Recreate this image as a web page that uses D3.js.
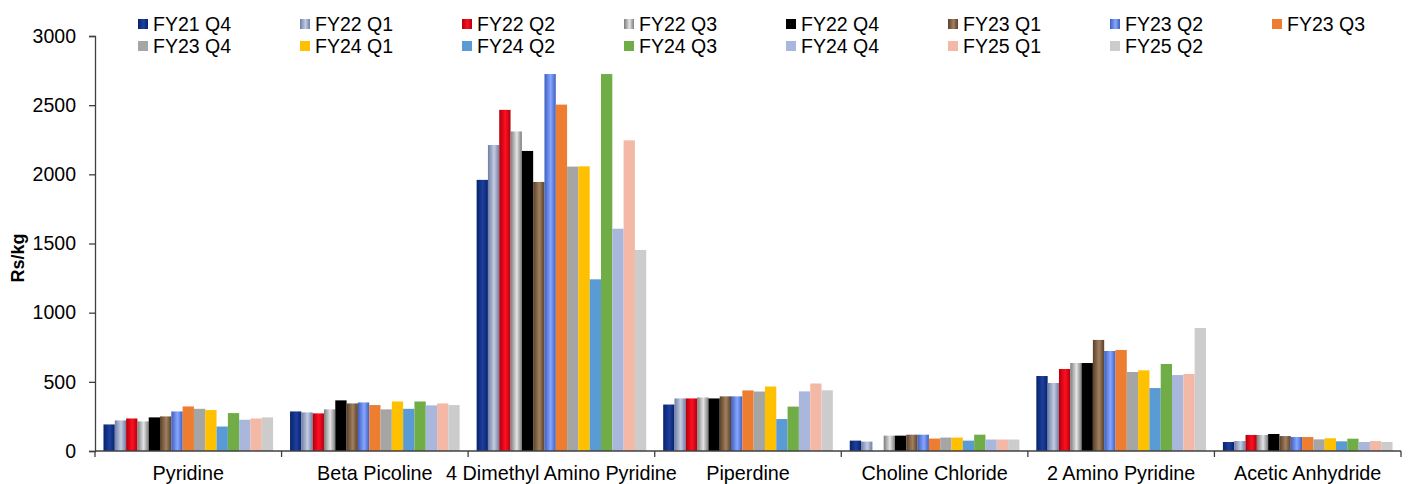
<!DOCTYPE html>
<html>
<head>
    <meta charset="utf-8">
    <title>Rs/kg by product and quarter</title>
    <script src="https://d3js.org/d3.v7.min.js"></script>
    <style>
        body { margin: 0; background: #fff; }
        text { font-family: Arial, "Liberation Sans", sans-serif; fill: #000; }
    </style>
</head>
<body>
    <div id="chart"></div>

    <script>
        // Products on the x axis
        var categories = ["Pyridine", "Beta Picoline", "4 Dimethyl Amino Pyridine", "Piperdine",
            "Choline Chloride", "2 Amino Pyridine", "Acetic Anhydride"];

        // Quarters (series)
        var quarters = ["FY21 Q4", "FY22 Q1", "FY22 Q2", "FY22 Q3", "FY22 Q4", "FY23 Q1", "FY23 Q2", "FY23 Q3",
            "FY23 Q4", "FY24 Q1", "FY24 Q2", "FY24 Q3", "FY24 Q4", "FY25 Q1", "FY25 Q2"];

        // Rs/kg per product, one value per quarter
        var pyridine = [192, 221, 235, 214, 243, 250, 286, 322, 305, 296, 177, 274, 226, 235, 243];
        var betaPicoline = [286, 279, 272, 301, 366, 344, 351, 332, 301, 358, 305, 358, 330, 344, 332];
        var dmap = [1960, 2212, 2466, 2310, 2169, 1945, 2725, 2504, 2056, 2058, 1241, 2725, 1607, 2246, 1453];
        var piperdine = [336, 380, 380, 387, 380, 395, 395, 438, 430, 466, 231, 321, 431, 488, 439];
        var cholineChloride = [75, 68, 0, 111, 111, 118, 118, 90, 97, 97, 75, 118, 83, 83, 83];
        var aminoPyridine = [542, 492, 593, 636, 636, 803, 723, 730, 571, 583, 455, 629, 549, 557, 889];
        var aceticAnhydride = [65, 72, 116, 116, 123, 108, 101, 101, 84, 92, 70, 89, 65, 72, 65];

        var yTicks = [0, 500, 1000, 1500, 2000, 2500, 3000];

        var values = [pyridine, betaPicoline, dmap, piperdine, cholineChloride, aminoPyridine, aceticAnhydride];

        // colours: [edge, centre] for gradient ones, single colour for flat ones
        var colors = [
            ["#06236e", "#1e3f9c"],
            ["#6f7ea6", "#c4cce0"],
            ["#b0000f", "#ff1020"],
            ["#7c7c7c", "#e4e4e4"],
            "#000000",
            ["#5a4028", "#a08060"],
            ["#3f5fc0", "#86a6ff"],
            "#ed7d31",
            "#a5a5a5",
            "#ffc000",
            "#5b9bd5",
            "#70ad47",
            "#a9b7dd",
            "#f4b9a6",
            "#cccccc"
        ];

        var width = 1413;
        var height = 484;
        var margin = { top: 36, right: 12, bottom: 33, left: 95 };

        var svg = d3.select("#chart")
            .append("svg")
            .attr("width", width)
            .attr("height", height);

        var defs = svg.append("defs");
        colors.forEach(function(c, i) {
            if (typeof c === "string") return;
            var grad = defs.append("linearGradient")
                .attr("id", "grad" + i)
                .attr("x1", "0%").attr("x2", "100%")
                .attr("y1", "0%").attr("y2", "0%");
            grad.append("stop").attr("offset", "0%").attr("stop-color", c[0]);
            grad.append("stop").attr("offset", "55%").attr("stop-color", c[1]);
            grad.append("stop").attr("offset", "100%").attr("stop-color", c[0]);
        });

        function fill(i) {
            return typeof colors[i] === "string" ? colors[i] : "url(#grad" + i + ")";
        }

        var x = d3.scaleBand()
            .domain(categories)
            .range([margin.left, width - margin.right])
            .padding(0);

        var xInner = d3.scaleBand()
            .domain(quarters)
            .range([0, x.bandwidth()])
            .paddingInner(0)
            .paddingOuter(0.75);

        var y = d3.scaleLinear()
            .domain([0, 3000])
            .range([height - margin.bottom, margin.top]);

        // bars
        var groups = svg.append("g")
            .selectAll("g")
            .data(categories)
            .enter()
            .append("g")
            .attr("transform", function(d) { return "translate(" + x(d) + ",0)"; });

        groups.selectAll("rect")
            .data(function(d, i) {
                return values[i].map(function(v, j) { return { q: quarters[j], v: v, j: j }; });
            })
            .enter()
            .append("rect")
            .filter(function(d) { return d.v > 0; })
            .attr("x", function(d) { return xInner(d.q); })
            .attr("y", function(d) { return y(d.v); })
            .attr("width", xInner.bandwidth())
            .attr("height", function(d) { return y(0) - y(d.v); })
            .attr("fill", function(d) { return fill(d.j); });

        // y axis
        var yAxis = svg.append("g")
            .attr("transform", "translate(" + margin.left + ",0)")
            .call(d3.axisLeft(y).tickValues(yTicks).tickFormat(d3.format("d")).tickSize(6).tickPadding(13));
        yAxis.selectAll("text").style("font-size", "19.5px");
        yAxis.selectAll("path, line").attr("stroke", "#404040").attr("stroke-width", 1.3);

        // x axis: ticks at category boundaries
        var xAxis = svg.append("g")
            .attr("transform", "translate(0," + y(0) + ")");
        xAxis.append("line")
            .attr("x1", margin.left).attr("x2", width - margin.right)
            .attr("stroke", "#404040").attr("stroke-width", 1.3);
        xAxis.selectAll(".tick")
            .data(categories.concat([null]))
            .enter()
            .append("line")
            .attr("class", "tick")
            .attr("x1", function(d) { return d === null ? width - margin.right : x(d); })
            .attr("x2", function(d) { return d === null ? width - margin.right : x(d); })
            .attr("y1", 0).attr("y2", 6)
            .attr("stroke", "#404040").attr("stroke-width", 1.3);
        xAxis.selectAll(".label")
            .data(categories)
            .enter()
            .append("text")
            .attr("class", "label")
            .attr("x", function(d) { return x(d) + x.bandwidth() / 2; })
            .attr("y", 28.5)
            .attr("text-anchor", "middle")
            .style("font-size", "19.8px")
            .text(function(d) { return d; });

        // y axis title
        svg.append("text")
            .attr("transform", "translate(24,258) rotate(-90)")
            .attr("text-anchor", "middle")
            .style("font-size", "18px")
            .style("font-weight", "bold")
            .text("Rs/kg");

        // legend, 8 per row
        var legend = svg.append("g")
            .selectAll("g")
            .data(quarters)
            .enter()
            .append("g")
            .attr("transform", function(d, i) {
                return "translate(" + (138 + (i % 8) * 162) + "," + (24 + Math.floor(i / 8) * 22) + ")";
            });
        legend.append("rect")
            .attr("x", 0).attr("y", -5)
            .attr("width", 10).attr("height", 10)
            .attr("fill", function(d, i) { return fill(i); });
        legend.append("text")
            .attr("x", 15)
            .attr("dy", "0.36em")
            .style("font-size", "19.5px")
            .text(function(d) { return d; });
    </script>
</body>
</html>
